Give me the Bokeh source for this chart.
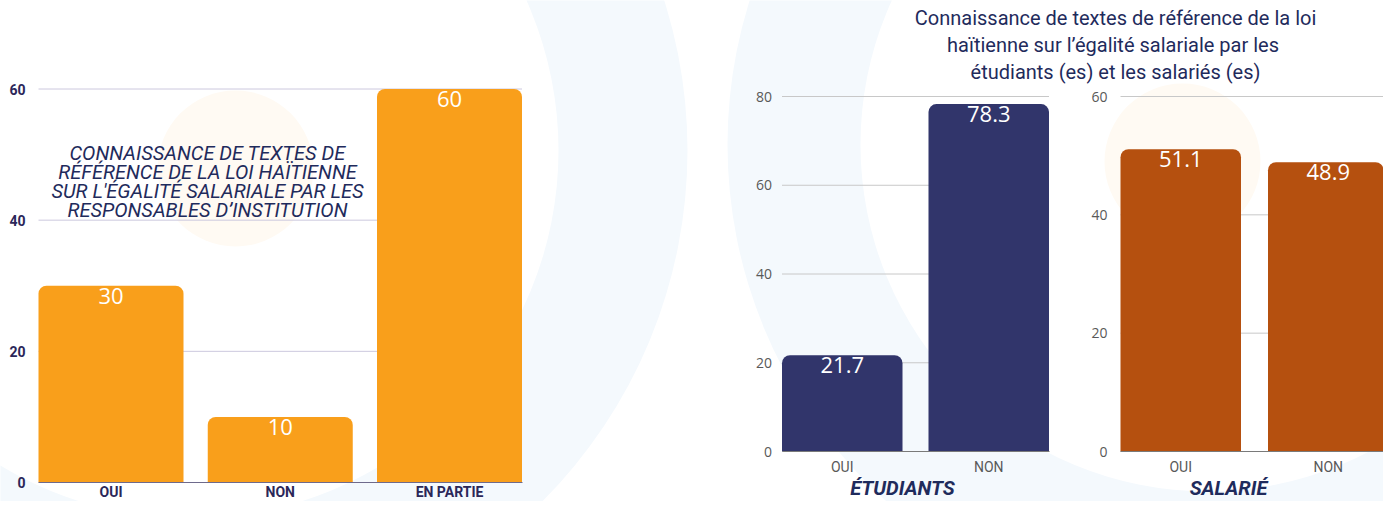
from bokeh.plotting import figure
from bokeh.models import Range1d, LinearAxis, FixedTicker, ColumnDataSource
from bokeh.core.properties import value
from bokeh.embed import file_html
from bokeh.resources import INLINE

# ---------------- data ----------------
resp_categories = ["OUI", "NON", "EN PARTIE"]
resp_values = [30, 10, 60]
resp_ticks = [0, 20, 40, 60]

etu_categories = ["OUI", "NON"]
etu_values = [21.7, 78.3]
etu_ticks = [0, 20, 40, 60, 80]

sal_categories = ["OUI", "NON"]
sal_values = [51.1, 48.9]
sal_ticks = [0, 20, 40, 60]

left_title = ["CONNAISSANCE DE TEXTES DE",
              "RÉFÉRENCE DE LA LOI HAÏTIENNE",
              "SUR L'ÉGALITÉ SALARIALE PAR LES",
              "RESPONSABLES D’INSTITUTION"]
right_title = ["Connaissance de textes de référence de la loi",
               "haïtienne  sur l’égalité salariale par les",
               "étudiants (es) et les salariés (es)"]
group_labels = ["ÉTUDIANTS", "SALARIÉ"]

# ---------------- styles / layout ----------------
ORANGE = "#F99F1B"
NAVY_BAR = "#31356B"
RUST = "#B5500F"
NAVY_TXT = "#1F2B5C"
DARK_LBL = "#2B2759"
GREY_LBL = "#595959"
RING = "#F4F9FD"
PEACH = "#FFFAF3"

W, H = 1383, 501
FX0, FX1 = 0, W          # picture pixel coords covered by the frame
FY0, FY1 = 0, H

p = figure(width=W, height=H,
           x_range=Range1d(FX0, FX1), y_range=Range1d(FY1, FY0),
           x_axis_type=None, y_axis_type=None,
           output_backend="svg", toolbar_location=None,
           min_border=0, outline_line_color=None,
           background_fill_color="white", border_fill_color="white")

# ---------------- background decoration ----------------
p.annulus(x=[190, 1207], y=[150, 144], inner_radius=[368, 347], outer_radius=[497, 480],
          fill_color=RING, line_color=None)
p.circle(x=[235, 1182], y=[168, 161], radius=78, fill_color=PEACH, line_color=None)


def chart(key, cats, vals, ticks, xl, xr, bar_px, y0_px, ytop_px, ytop_val,
          color, grid_color, base_color, ylab_style, xlab_style, xlab_standoff, ylab_standoff):
    n = len(cats)
    pitch = (xr - xl - bar_px) / (n - 1)
    w = bar_px / pitch
    c0 = xl + bar_px / 2
    k = (y0_px - ytop_px) / ytop_val
    xr_name, yr_name = key + "_x", key + "_y"
    p.extra_x_ranges[xr_name] = Range1d((FX0 - c0) / pitch, (FX1 - c0) / pitch)
    p.extra_y_ranges[yr_name] = Range1d((y0_px - FY1) / k, (y0_px - FY0) / k)

    idx = list(range(n))
    lo, hi = -w / 2, (n - 1) + w / 2
    gt = [t for t in ticks if t > 0]
    p.segment(x0=[lo] * len(gt), x1=[hi] * len(gt), y0=gt, y1=gt,
              line_color=grid_color, line_width=1,
              x_range_name=xr_name, y_range_name=yr_name)

    src = ColumnDataSource(dict(x=idx, top=vals, label=[f"{v:g}" for v in vals]))
    p.vbar(x="x", top="top", bottom=0, width=w, source=src,
           fill_color=color, line_color=None, border_radius=(8, 8, 0, 0),
           x_range_name=xr_name, y_range_name=yr_name)
    p.text(x="x", y="top", text="label", source=src,
           text_color="white", text_font=value("Open Sans"), text_font_size="22px",
           text_align="center", text_baseline="top", y_offset=2,
           x_range_name=xr_name, y_range_name=yr_name)

    yax = LinearAxis(x_range_name=xr_name, y_range_name=yr_name, fixed_location=lo,
                     ticker=FixedTicker(ticks=ticks), axis_line_color=None,
                     major_tick_line_color=None, minor_tick_line_color=None,
                     major_tick_out=0, major_tick_in=0, minor_tick_out=0, minor_tick_in=0,
                     major_label_standoff=ylab_standoff, **ylab_style)
    p.add_layout(yax, "left")

    xax = LinearAxis(x_range_name=xr_name, y_range_name=yr_name, fixed_location=0,
                     bounds=(lo, hi), ticker=FixedTicker(ticks=idx),
                     major_label_overrides={i: c for i, c in enumerate(cats)},
                     axis_line_color=base_color, axis_line_width=1.2,
                     major_tick_line_color=None, minor_tick_line_color=None,
                     major_tick_out=0, major_tick_in=0, minor_tick_out=0, minor_tick_in=0,
                     major_label_standoff=xlab_standoff, **xlab_style)
    p.add_layout(xax, "below")
    return idx


bold_y_style = dict(major_label_text_font="Roboto", major_label_text_font_style="bold",
                    major_label_text_font_size="14px", major_label_text_color=DARK_LBL)
bold_x_style = dict(major_label_text_font="Roboto", major_label_text_font_style="bold",
                    major_label_text_font_size="14px", major_label_text_color=DARK_LBL)
grey_y_style = dict(major_label_text_font="Open Sans", major_label_text_font_size="14px",
                    major_label_text_color=GREY_LBL)
grey_x_style = dict(major_label_text_font="Roboto", major_label_text_font_size="14px",
                    major_label_text_color=GREY_LBL)

chart("resp", resp_categories, resp_values, resp_ticks, 38, 521.5, 145, 482, 88.5, 60,
      ORANGE, "#CCC8DE", "#6E6A8C", bold_y_style, bold_x_style, 1, 13)
chart("etu", etu_categories, etu_values, etu_ticks, 781.5, 1048.5, 120.5, 451, 96, 80,
      NAVY_BAR, "#C8C8C8", "#7A7A7A", grey_y_style, grey_x_style, 7, 10)
chart("sal", sal_categories, sal_values, sal_ticks, 1120, 1388, 120.5, 451, 96, 60,
      RUST, "#C8C8C8", "#7A7A7A", grey_y_style, grey_x_style, 7, 13)

# ---------------- titles ----------------
p.text(x=[207] * len(left_title), y=[152 + 19 * i for i in range(len(left_title))],
       text=left_title, text_font=value("Roboto"), text_font_style="italic",
       text_font_size="20px", text_color=NAVY_TXT, text_align="center",
       text_baseline="middle")
p.text(x=[1115] * len(right_title), y=[17 + 27 * i for i in range(len(right_title))],
       text=right_title, text_font=value("Roboto"), text_font_size="20px",
       text_color=NAVY_TXT, text_align="center", text_baseline="middle")
p.text(x=[902, 1228], y=[487, 487], text=group_labels, text_font=value("Roboto"),
       text_font_style="bold italic", text_font_size="20px", text_color=NAVY_TXT,
       text_align="center", text_baseline="middle")

open("out.html", "w").write(file_html(p, INLINE))
